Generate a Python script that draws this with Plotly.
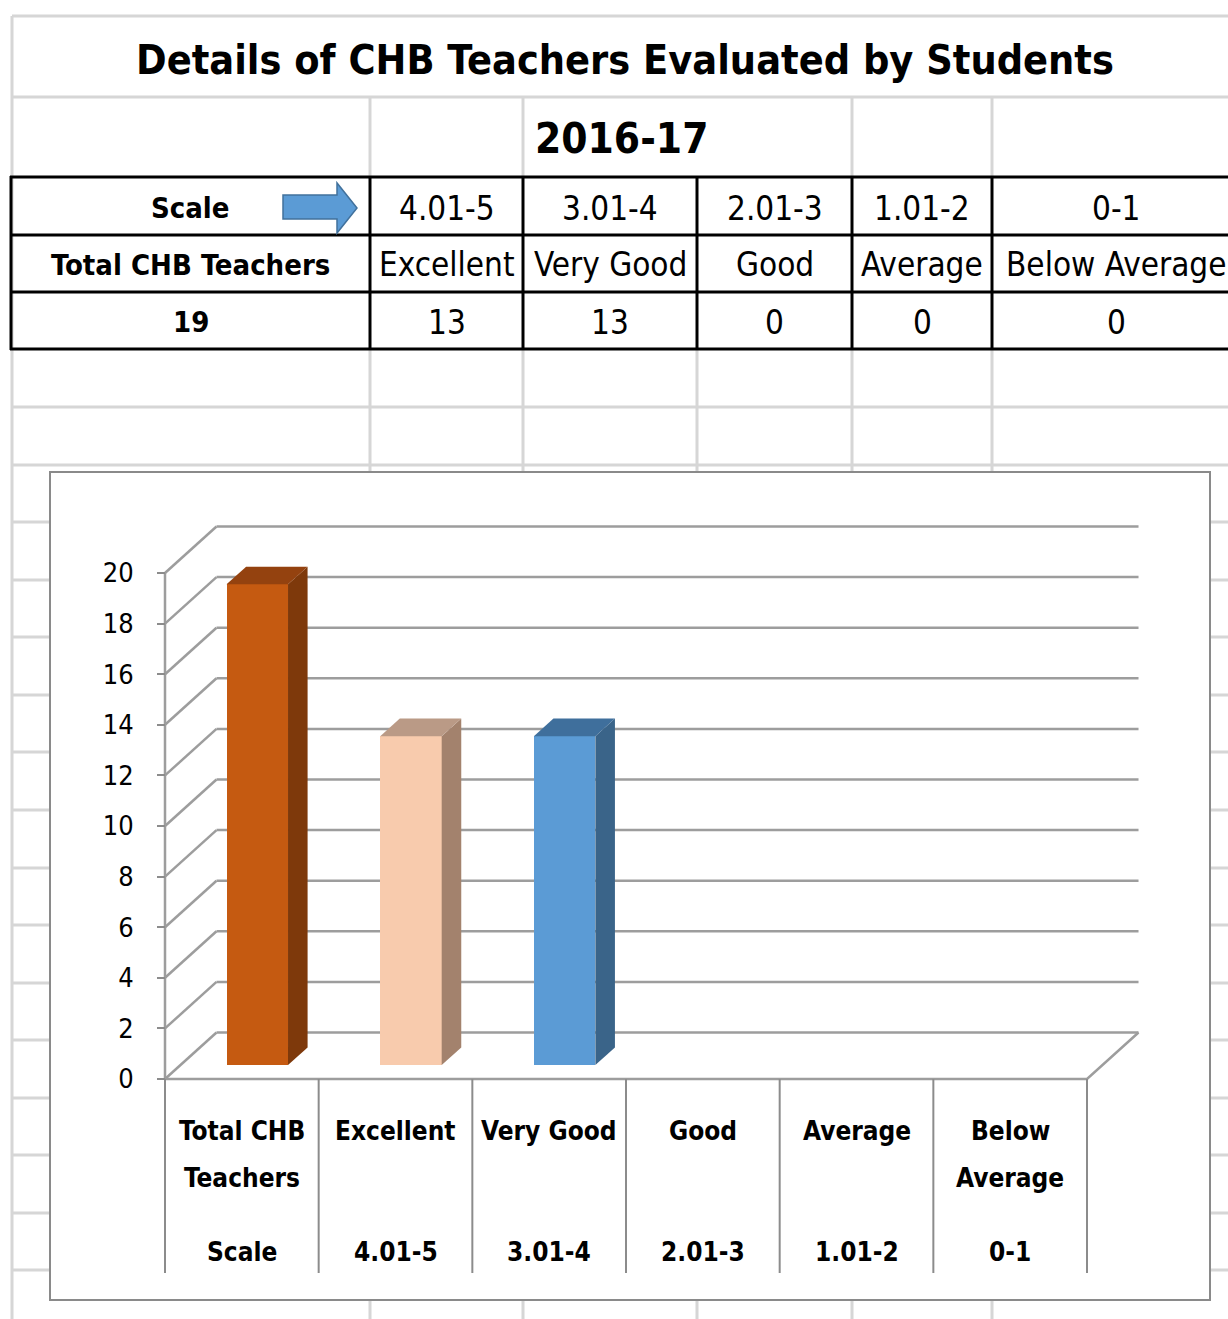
import plotly.graph_objects as go

# ---------------- data ----------------
title_text = "Details of CHB Teachers Evaluated by Students"
year_text = "2016-17"
categories = ["Total CHB Teachers", "Excellent", "Very Good", "Good", "Average", "Below Average"]
axis_labels = ["Total CHB<br>Teachers", "Excellent", "Very Good", "Good", "Average", "Below<br>Average"]
scales = ["Scale", "4.01-5", "3.01-4", "2.01-3", "1.01-2", "0-1"]
values = [19, 13, 13, 0, 0, 0]
y_ticks = [0, 2, 4, 6, 8, 10, 12, 14, 16, 18, 20]

front_colors = ["#C55A11", "#F8CBAD", "#5B9BD5", "#A5A5A5", "#FFC000", "#4472C4"]
side_colors = ["#7E390B", "#A3826D", "#3A6489", "#6A6A6A", "#A37B00", "#2C4A7E"]
top_colors = ["#94420F", "#BA9A86", "#3F6F9C", "#7C7C7C", "#BF9000", "#335692"]

# ---------------- geometry (pixels of the 1228x1319 page) ----------------
W, H = 1228, 1319
OFF = 0   # body margin is removed by the post script below
FONT = "DejaVu Sans Condensed, Liberation Sans Narrow, sans-serif"


def px(x):
    return (x - OFF) / (W - OFF)


def py(y):
    return 1 - (y - OFF) / (H - OFF)


N = len(categories)
X0, XS = 165.0, 153.67      # pixel of x=0 on the front plane, pixels per category
Y0, YS = 1079.0, 25.3       # pixel of y=0 on the front plane, pixels per unit
DX, DY = 51.5 / XS, 46.5 / YS   # depth of the 3D box in axis units
F_FRONT, F_DEPTH = 0.30, 0.38   # bar front position / bar depth as fraction of box depth
BW = 0.40                        # bar width in category units

dom_x = (160, 1150)
dom_y = (500, 1290)
x_range = [(dom_x[0] - X0) / XS, (dom_x[1] - X0) / XS]
y_range = [(Y0 - dom_y[1]) / YS, (Y0 - dom_y[0]) / YS]


def ydata(pix):
    return (Y0 - pix) / YS


fig = go.Figure()
shapes = []
GRID = "#9d9d9d"

# ---------- 3D box: back wall gridlines (as shapes below the bars) ----------
for v in y_ticks:
    shapes.append(dict(type="line", xref="x", yref="y", x0=0, y0=v, x1=DX, y1=v + DY,
                       line=dict(color=GRID, width=2.5), layer="below"))
    shapes.append(dict(type="line", xref="x", yref="y", x0=DX, y0=v + DY, x1=N + DX, y1=v + DY,
                       line=dict(color=GRID, width=2.5), layer="below"))

# floor front edge, right edge and vertical axis line
fig.add_trace(go.Scatter(x=[0, N, N + DX], y=[0, 0, DY], mode="lines",
                         line=dict(color=GRID, width=2.5), hoverinfo="skip", showlegend=False))
fig.add_trace(go.Scatter(x=[0, 0], y=[0, y_ticks[-1]], mode="lines",
                         line=dict(color=GRID, width=2.5), hoverinfo="skip", showlegend=False))
# category dividers under the floor
dx_, dy_ = [], []
for i in range(N + 1):
    dx_ += [i, i, None]
    dy_ += [0, ydata(1273), None]
fig.add_trace(go.Scatter(x=dx_, y=dy_, mode="lines", line=dict(color="#8c8c8c", width=2),
                         hoverinfo="skip", showlegend=False))

# ---------- bars ----------
fx, fy = F_FRONT * DX, F_FRONT * DY
sx, sy = F_DEPTH * DX, F_DEPTH * DY
centers = [i + 0.5 + fx for i in range(N)]
fig.add_trace(go.Bar(x=centers, y=values, base=fy, width=BW,
                     marker=dict(color=front_colors, line=dict(width=0)),
                     hovertext=categories, showlegend=False))
for i, v in enumerate(values):
    if v <= 0:
        continue
    xl, xr = centers[i] - BW / 2, centers[i] + BW / 2
    yb, yt = fy, fy + v
    fig.add_trace(go.Scatter(x=[xr, xr + sx, xr + sx, xr, xr], y=[yb, yb + sy, yt + sy, yt, yb],
                             fill="toself", fillcolor=side_colors[i], mode="lines",
                             line=dict(width=0, color=side_colors[i]), hoverinfo="skip", showlegend=False))
    fig.add_trace(go.Scatter(x=[xl, xr, xr + sx, xl + sx, xl], y=[yt, yt, yt + sy, yt + sy, yt],
                             fill="toself", fillcolor=top_colors[i], mode="lines",
                             line=dict(width=0, color=top_colors[i]), hoverinfo="skip", showlegend=False))

# ---------------- spreadsheet background ----------------
GRAY = "#d6d6d6"


def hline(y, x0, x1, color=GRAY, w=3):
    shapes.append(dict(type="line", xref="paper", yref="paper", x0=px(x0), x1=px(x1),
                       y0=py(y), y1=py(y), line=dict(color=color, width=w), layer="below"))


def vline(x, y0, y1, color=GRAY, w=3):
    shapes.append(dict(type="line", xref="paper", yref="paper", x0=px(x), x1=px(x),
                       y0=py(y0), y1=py(y1), line=dict(color=color, width=w), layer="below"))


hline(16, 12, W)
vline(12, 16, H)
hline(97, 12, W)
for x in [370, 523, 852, 992]:
    vline(x, 97, 177)
for y in [407, 465, 522, 580, 637, 695, 752, 810, 868, 925, 983, 1040, 1098, 1155, 1213, 1270]:
    hline(y, 12, W)
for x in [370, 523, 697, 852, 992]:
    vline(x, 349, H)

# chart frame (white, covers grid)
shapes.append(dict(type="rect", xref="paper", yref="paper", x0=px(50), x1=px(1210),
                   y0=py(1300), y1=py(472), fillcolor="white",
                   line=dict(color="#8a8a8a", width=2), layer="below"))

# table borders
col_b = [11, 370, 523, 697, 852, 992]
for y in [177, 235, 292, 349]:
    hline(y, 10, W, color="black", w=3)
for x in col_b:
    vline(x, 176, 350, color="black", w=3)

# arrow
arrow = "M {} {} L {} {} L {} {} L {} {} L {} {} L {} {} L {} {} Z".format(
    px(283), py(195), px(337), py(195), px(337), py(183), px(357), py(208),
    px(337), py(233), px(337), py(219), px(283), py(219))
shapes.append(dict(type="path", xref="paper", yref="paper", path=arrow,
                   fillcolor="#5B9BD5", line=dict(color="#41719C", width=1.5)))

# ---------------- text ----------------
ann = []


def txt(x, y, s, size, bold=False, xref="paper", anchor="center"):
    ann.append(dict(x=x, y=y, xref=xref, yref="paper", text=("<b>%s</b>" % s) if bold else s,
                    showarrow=False, xanchor=anchor, yanchor="middle",
                    font=dict(family=FONT, size=size, color="black")))


txt(px(625), py(60), title_text, 41, bold=True)
txt(px(533), py(139), year_text, 42, bold=True, anchor="left")

col_centers = [190.5, 446.5, 610, 774.5, 922, 1116]
row_a, row_b, row_c = 208, 265, 322
for j in range(N):
    bold = j == 0
    size = 29 if bold else 33
    txt(px(col_centers[j]), py(row_a), scales[j], size, bold)
    txt(px(col_centers[j]), py(row_b), categories[j], size, bold)
    txt(px(col_centers[j]), py(row_c), str(values[j]), size, bold)

# category labels under the chart
for i in range(N):
    lines = axis_labels[i].split("<br>")
    for k, line in enumerate(lines):
        txt(i + 0.5, py(1131 + 47 * k), line, 26, bold=True, xref="x")
    txt(i + 0.5, py(1252), scales[i], 26, bold=True, xref="x")

fig.update_layout(
    width=W - OFF, height=H - OFF, margin=dict(l=0, r=0, t=0, b=0),
    paper_bgcolor="white", plot_bgcolor="rgba(0,0,0,0)",
    shapes=shapes, annotations=ann, bargap=0,
    xaxis=dict(domain=[px(dom_x[0]), px(dom_x[1])], range=x_range, visible=False, fixedrange=True),
    yaxis=dict(domain=[py(dom_y[1]), py(dom_y[0])], range=y_range, anchor="free", position=px(X0),
               tickvals=y_ticks, ticks="outside", ticklen=8, tickwidth=2, tickcolor="#8c8c8c",
               showgrid=False, zeroline=False, showline=False, ticklabelstandoff=18,
               tickfont=dict(family=FONT, size=27, color="black"), fixedrange=True),
    showlegend=False,
)

fig.write_html("out.html", config={"displayModeBar": False},
               post_script="document.body.style.margin='0';document.body.style.overflow='hidden';")
